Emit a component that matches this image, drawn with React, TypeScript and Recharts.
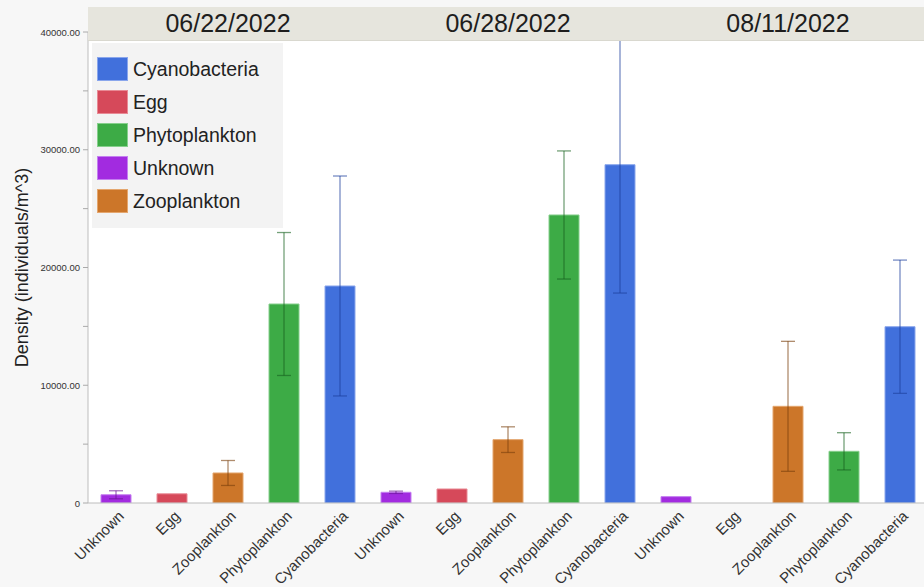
import React from 'react';
import { Bar, BarChart, CartesianGrid, Cell, ErrorBar, XAxis, YAxis } from 'recharts';

// sampling dates, one panel each
const dates = ['06/22/2022', '06/28/2022', '08/11/2022'];
const categories = ['Unknown', 'Egg', 'Zooplankton', 'Phytoplankton', 'Cyanobacteria'];
const legendOrder = ['Cyanobacteria', 'Egg', 'Phytoplankton', 'Unknown', 'Zooplankton'];

// mean density (individuals/m^3) and error (+/-) per category
const density0622 = [700, 780, 2550, 16900, 18430];
const error0622 = [340, null, 1060, 6070, 9340];
const density0628 = [910, 1190, 5380, 24460, 28730];
const error0628 = [100, null, 1090, 5440, 10900];
const density0811 = [540, null, 8210, 4390, 14970];
const error0811 = [null, null, 5520, 1580, 5660];

const yTicks = [0, 5000, 10000, 15000, 20000, 25000, 30000, 35000, 40000];

const colors: Record<string, string> = {
  Unknown: '#a22be0',
  Egg: '#d6495a',
  Zooplankton: '#cc7629',
  Phytoplankton: '#3dab46',
  Cyanobacteria: '#4170dc',
};
const edgeColors: Record<string, string> = {
  Unknown: '#c47ff0',
  Egg: '#e88a95',
  Zooplankton: '#e4a66e',
  Phytoplankton: '#86cf8c',
  Cyanobacteria: '#8aa6ec',
};
const errColors: Record<string, string> = {
  Unknown: '#6a1596',
  Egg: '#8a2230',
  Zooplankton: '#7a3f0c',
  Phytoplankton: '#17631f',
  Cyanobacteria: '#1d3f9c',
};

const buildRows = (values: (number | null)[], errors: (number | null)[]) =>
  categories.map((name, i) => {
    const row: Record<string, any> = { name, value: values[i] };
    if (errors[i] != null) row[`err${name}`] = errors[i];
    return row;
  });

const panels = [
  buildRows(density0622, error0622),
  buildRows(density0628, error0628),
  buildRows(density0811, error0811),
];

const CHART_H = 587;
const PANEL_W = 280;
const AXIS_W = 88;
const SPILL = 60; // extra room on the left so rotated labels are not cut

const XTick = ({ x, y, payload }: any) => (
  <g transform={`translate(${x + 9},${y + 8})`}>
    <text textAnchor='end' transform='rotate(-45)' fontSize={15} fill='#333'>
      {payload.value}
    </text>
  </g>
);

const YTick = ({ x, y, payload }: any) => {
  const v = payload.value as number;
  const label = v === 0 ? '0' : v % 10000 === 0 ? v.toFixed(2) : '';
  return (
    <text x={x} y={y} dy={3.5} textAnchor='end' fontSize={9.5} fill='#333'>
      {label}
    </text>
  );
};

const Panel = ({ rows, left, first }: { rows: Record<string, any>[]; left: number; first: boolean }) => (
  <div style={{ position: 'absolute', left, top: 0 }}>
    <BarChart
      width={first ? PANEL_W + AXIS_W : PANEL_W + SPILL}
      height={CHART_H}
      data={rows}
      margin={{ top: 32, right: 0, bottom: 0, left: first ? 0 : SPILL }}
    >
      <CartesianGrid horizontal={false} vertical={false} fill='#ffffff' />
      <XAxis
        dataKey='name'
        interval={0}
        height={84}
        tickLine={false}
        tickMargin={0}
        axisLine={{ stroke: '#bdbdbd' }}
        tick={<XTick />}
      />
      {first ? (
        <YAxis
          width={AXIS_W}
          domain={[0, 40000]}
          allowDataOverflow
          ticks={yTicks}
          tickSize={5}
          tickMargin={3}
          tickLine={{ stroke: '#aaa' }}
          axisLine={{ stroke: '#bdbdbd' }}
          tick={<YTick />}
          label={{
            value: 'Density (individuals/m^3)',
            angle: -90,
            position: 'insideLeft',
            offset: 22,
            fontSize: 18,
            fill: '#222',
            style: { textAnchor: 'middle' },
          }}
        />
      ) : (
        <YAxis
          width={0}
          domain={[0, 40000]}
          allowDataOverflow
          tick={false}
          tickLine={false}
          axisLine={{ stroke: '#dedede' }}
        />
      )}
      <Bar dataKey='value' barSize={30} isAnimationActive={false}>
        {rows.map((r) => (
          <Cell key={r.name} fill={colors[r.name]} stroke={edgeColors[r.name]} strokeWidth={1} />
        ))}
        {categories.map((c) => (
          <ErrorBar
            key={c}
            dataKey={`err${c}`}
            width={7}
            stroke={errColors[c]}
            strokeOpacity={0.6}
            strokeWidth={1.3}
            isAnimationActive={false}
          />
        ))}
      </Bar>
    </BarChart>
  </div>
);

export default function App() {
  return (
    <div
      style={{
        position: 'relative',
        width: 924,
        height: 587,
        overflow: 'hidden',
        background: '#f7f7f7',
        fontFamily: '"Liberation Sans", Arial, sans-serif',
      }}
    >
      <style>{'body{margin:0}'}</style>
      {panels.map((rows, i) => (
        <Panel
          key={dates[i]}
          rows={rows}
          first={i === 0}
          left={i === 0 ? 0 : AXIS_W + i * PANEL_W - SPILL}
        />
      ))}

      <div
        style={{
          position: 'absolute',
          left: AXIS_W,
          top: 7,
          width: 924 - AXIS_W,
          height: 33,
          background: '#e6e5dd',
          borderBottom: '1px solid #d9d8cf',
        }}
      >
        {dates.map((d, i) => (
          <div
            key={d}
            style={{
              position: 'absolute',
              left: i * PANEL_W,
              width: PANEL_W,
              top: 0,
              textAlign: 'center',
              fontSize: 25,
              lineHeight: '33px',
              color: '#1e1e1e',
            }}
          >
            {d}
          </div>
        ))}
      </div>

      <div
        style={{
          position: 'absolute',
          left: 92,
          top: 43,
          width: 191,
          height: 185,
          background: '#f3f3f3',
        }}
      >
        {legendOrder.map((c, i) => (
          <div
            key={c}
            style={{
              position: 'absolute',
              left: 5,
              top: 14 + i * 33,
              height: 24,
              display: 'flex',
              alignItems: 'center',
            }}
          >
            <div
              style={{
                width: 29,
                height: 22,
                background: colors[c],
                border: `1px solid ${edgeColors[c]}`,
              }}
            />
            <span style={{ marginLeft: 5, fontSize: 19.5, color: '#222' }}>{c}</span>
          </div>
        ))}
      </div>
    </div>
  );
}
